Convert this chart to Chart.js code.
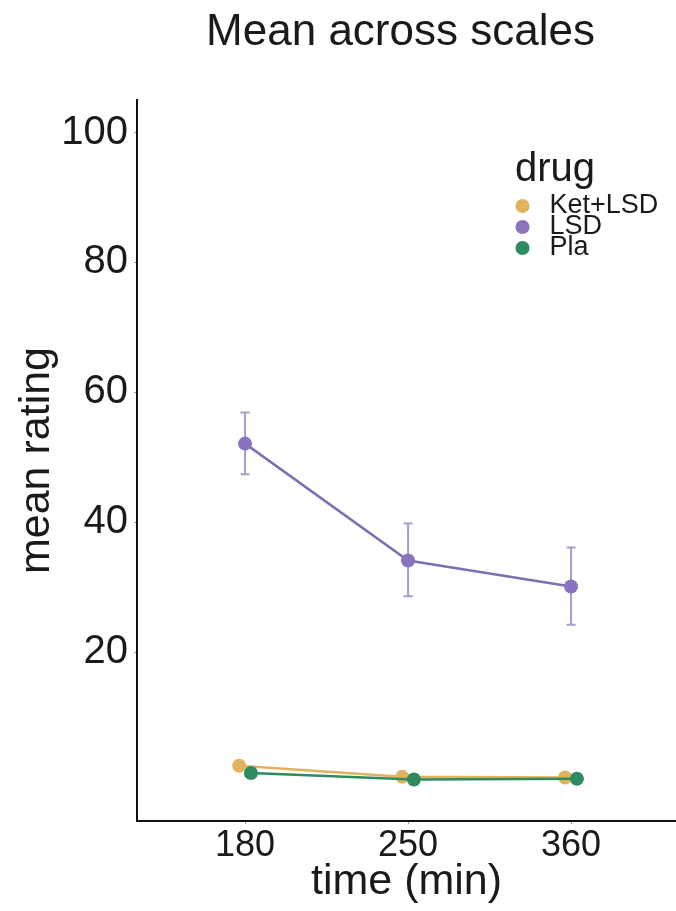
<!DOCTYPE html>
<html>
<head>
<meta charset="utf-8">
<script src="https://cdn.jsdelivr.net/npm/chart.js@4/dist/chart.umd.min.js"></script>
<style>
  html, body { margin: 0; padding: 0; background: #ffffff; }
  #wrap { width: 676px; height: 911px; position: relative; }
</style>
</head>
<body>
<div id="wrap"><canvas id="c" width="676" height="911"></canvas></div>
<script>
// Time points (min) and drug conditions
const timepoints = ['180', '250', '360'];
const drugs = ['Ket+LSD', 'LSD', 'Pla'];

// Mean rating per time point
const ketLsdMean = [2.5, 0.8, 0.7];
const lsdMean = [52.1, 34.1, 30.1];
const plaMean = [1.4, 0.4, 0.5];

// Error bar limits for LSD
const lsdLower = [47.4, 28.6, 24.2];
const lsdUpper = [56.9, 39.8, 36.1];

// Y axis tick values
const yTickValues = [20, 40, 60, 80, 100];

// Horizontal dodge of each drug around its time point (category units)
const dodge = [-0.036, 0, 0.036];

const FONT = "'Liberation Sans', Arial, Helvetica, sans-serif";
const colors = {
  ketLsd: '#E0B35E',
  lsd: '#8A74C0',
  lsdLine: '#7F6EB2',
  lsdErr: '#A89DC9',
  pla: '#2F8A60'
};

function pts(values, k) {
  return values.map((v, i) => ({ x: i + dodge[k], y: v }));
}

// Vertical error bars with caps, placed through the chart scales
const errorBars = {
  id: 'errorBars',
  beforeDatasetsDraw(chart) {
    const { ctx, scales: { x, y } } = chart;
    ctx.save();
    ctx.strokeStyle = colors.lsdErr;
    ctx.lineWidth = 2;
    const cap = 4.5;
    lsdMean.forEach((m, i) => {
      const px = x.getPixelForValue(i + dodge[1]);
      const lo = y.getPixelForValue(lsdLower[i]);
      const hi = y.getPixelForValue(lsdUpper[i]);
      ctx.beginPath();
      ctx.moveTo(px, lo); ctx.lineTo(px, hi);
      ctx.moveTo(px - cap, lo); ctx.lineTo(px + cap, lo);
      ctx.moveTo(px - cap, hi); ctx.lineTo(px + cap, hi);
      ctx.stroke();
    });
    ctx.restore();
  }
};

// Legend sits inside the plotting area, at the upper right;
// the title is centred slightly left of the plotting area's centre
const boxPlacer = {
  id: 'boxPlacer',
  beforeDraw(chart) {
    const lg = chart.legend;
    if (lg) {
      const w = lg.width, h = lg.height;
      lg.left = 515; lg.top = 146;
      lg.right = lg.left + w; lg.bottom = lg.top + h;
    }
    const tb = chart.titleBlock;
    if (tb) {
      tb.left = chart.chartArea.left - 12;
      tb.right = chart.chartArea.right;
      tb.width = tb.right - tb.left;
    }
  }
};

const whiteBg = {
  id: 'whiteBg',
  beforeDraw(chart) {
    const { ctx } = chart;
    ctx.save();
    ctx.fillStyle = '#ffffff';
    ctx.fillRect(0, 0, chart.width, chart.height);
    ctx.restore();
  }
};

new Chart(document.getElementById('c'), {
  type: 'line',
  data: {
    datasets: [
      {
        label: drugs[0], data: pts(ketLsdMean, 0), order: 3,
        borderColor: colors.ketLsd, backgroundColor: colors.ketLsd,
        pointBackgroundColor: colors.ketLsd, pointBorderColor: colors.ketLsd,
        borderWidth: 2.5, pointRadius: 7, pointBorderWidth: 0, tension: 0
      },
      {
        label: drugs[1], data: pts(lsdMean, 1), order: 2,
        borderColor: colors.lsdLine, backgroundColor: colors.lsd,
        pointBackgroundColor: colors.lsd, pointBorderColor: colors.lsd,
        borderWidth: 2.5, pointRadius: 7, pointBorderWidth: 0, tension: 0
      },
      {
        label: drugs[2], data: pts(plaMean, 2), order: 1,
        borderColor: colors.pla, backgroundColor: colors.pla,
        pointBackgroundColor: colors.pla, pointBorderColor: colors.pla,
        borderWidth: 2.5, pointRadius: 7, pointBorderWidth: 0, tension: 0
      }
    ]
  },
  options: {
    responsive: false,
    animation: false,
    devicePixelRatio: 1,
    layout: { padding: 0, autoPadding: false },
    scales: {
      x: {
        type: 'linear',
        min: -0.663, max: 2.644,
        afterBuildTicks(scale) {
          scale.ticks = timepoints.map((t, i) => ({ value: i }));
        },
        afterFit(scale) {
          scale.height = 90;
          scale.paddingLeft = 0;
          scale.paddingRight = 0;
        },
        ticks: {
          color: '#1a1a1a',
          font: { family: FONT, size: 36 },
          padding: 0,
          maxRotation: 0,
          callback: (v) => timepoints[v]
        },
        grid: { display: true, drawOnChartArea: false, drawTicks: true, tickLength: 3, color: '#999999' },
        border: { display: true, color: '#111111', width: 2 },
        title: {
          display: true, text: 'time (min)', color: '#1a1a1a',
          font: { family: FONT, size: 43 }, padding: { top: 0, bottom: 3 }
        }
      },
      y: {
        type: 'linear',
        min: -6, max: 105,
        afterBuildTicks(scale) {
          scale.ticks = yTickValues.map(v => ({ value: v }));
        },
        afterFit(scale) { scale.width = 137; },
        ticks: {
          color: '#1a1a1a',
          font: { family: FONT, size: 40 },
          padding: 6
        },
        grid: { display: true, drawOnChartArea: false, drawTicks: true, tickLength: 3, color: '#999999' },
        border: { display: true, color: '#111111', width: 2 },
        title: {
          display: true, text: 'mean rating', color: '#1a1a1a',
          font: { family: FONT, size: 43 }, padding: { top: 11, bottom: 0 }
        }
      }
    },
    plugins: {
      title: {
        display: true, text: 'Mean across scales', color: '#1a1a1a',
        fullSize: false,
        font: { family: FONT, size: 44, weight: 'normal' },
        padding: { top: 6, bottom: 41.2 }
      },
      legend: {
        display: true,
        position: 'chartArea',
        align: 'start',
        title: {
          display: true, text: 'drug', color: '#1a1a1a', position: 'start',
          font: { family: FONT, size: 40 }, padding: { top: 4, bottom: 0.5 }
        },
        labels: {
          usePointStyle: true,
          pointStyle: 'circle',
          boxWidth: 27, boxHeight: 10,
          padding: -6,
          color: '#1a1a1a',
          font: { family: FONT, size: 27 },
          sort: (a, b) => a.datasetIndex - b.datasetIndex,
          generateLabels(chart) {
            const items = Chart.defaults.plugins.legend.labels.generateLabels(chart);
            items.forEach(it => {
              const ds = chart.data.datasets[it.datasetIndex];
              it.fillStyle = ds.pointBackgroundColor;
              it.strokeStyle = ds.pointBackgroundColor;
              it.lineWidth = 0;
            });
            return items;
          }
        }
      },
      tooltip: { enabled: false }
    }
  },
  plugins: [whiteBg, errorBars, boxPlacer]
});
</script>
</body>
</html>
